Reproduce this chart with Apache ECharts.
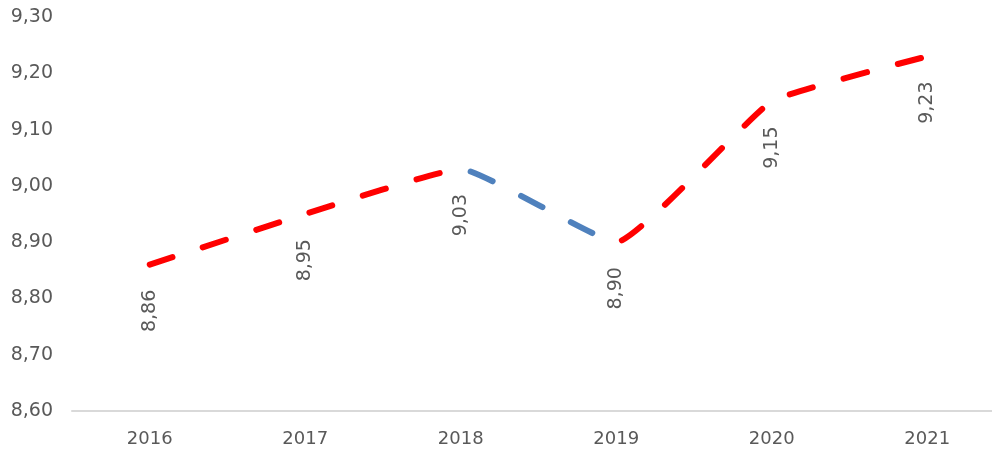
<!DOCTYPE html>
<html>
<head>
<meta charset="utf-8">
<script src="https://cdn.jsdelivr.net/npm/echarts@6/dist/echarts.min.js"></script>
<style>
  html, body { margin: 0; padding: 0; background: #fff; overflow: hidden; }
  /* el gráfico original sigue más allá del borde derecho: lienzo un poco más ancho */
  #chart { width: 1005px; height: 453px; }
</style>
</head>
<body>
<div id="chart"></div>
<script>
// años y valores
const years = ['2016', '2017', '2018', '2019', '2020', '2021'];
const values = [8.86, 8.95, 9.03, 8.90, 9.15, 9.23];

const fmt = v => v.toFixed(2).replace('.', ',');

const chart = echarts.init(document.getElementById('chart'));

const option = {
  animation: false,
  textStyle: { fontFamily: 'DejaVu Sans' },
  grid: { left: 72, right: 0, top: 17, bottom: 42 },
  xAxis: {
    type: 'category',
    data: years,
    axisTick: { show: false },
    axisLine: { lineStyle: { color: '#d9d9d9', width: 2 } },
    axisLabel: { color: '#595959', fontSize: 18, margin: 19 }
  },
  yAxis: {
    type: 'value',
    min: 8.6,
    max: 9.3,
    interval: 0.1,
    splitLine: { show: false },
    axisLine: { show: false },
    axisTick: { show: false },
    axisLabel: { color: '#595959', fontSize: 19, margin: 19, formatter: v => fmt(v) }
  },
  // tramo 2018-2019 en azul, resto en rojo
  visualMap: {
    type: 'piecewise',
    show: false,
    dimension: 0,
    seriesIndex: 0,
    pieces: [
      { lt: 2, color: '#ff0000' },
      { gte: 2, lt: 3, color: '#4f81bd' },
      { gte: 3, color: '#ff0000' }
    ]
  },
  series: [
    {
      type: 'line',
      data: values,
      smooth: 0.12,
      symbol: 'circle',
      symbolSize: 0.1,
      showSymbol: true,
      lineStyle: { width: 6, type: [24, 32], cap: 'round' },
      label: {
        show: true,
        position: 'bottom',
        distance: 25,
        rotate: 90,
        align: 'right',
        verticalAlign: 'middle',
        color: '#595959',
        fontSize: 19,
        formatter: p => fmt(p.value)
      }
    }
  ]
};

chart.setOption(option);
</script>
</body>
</html>
